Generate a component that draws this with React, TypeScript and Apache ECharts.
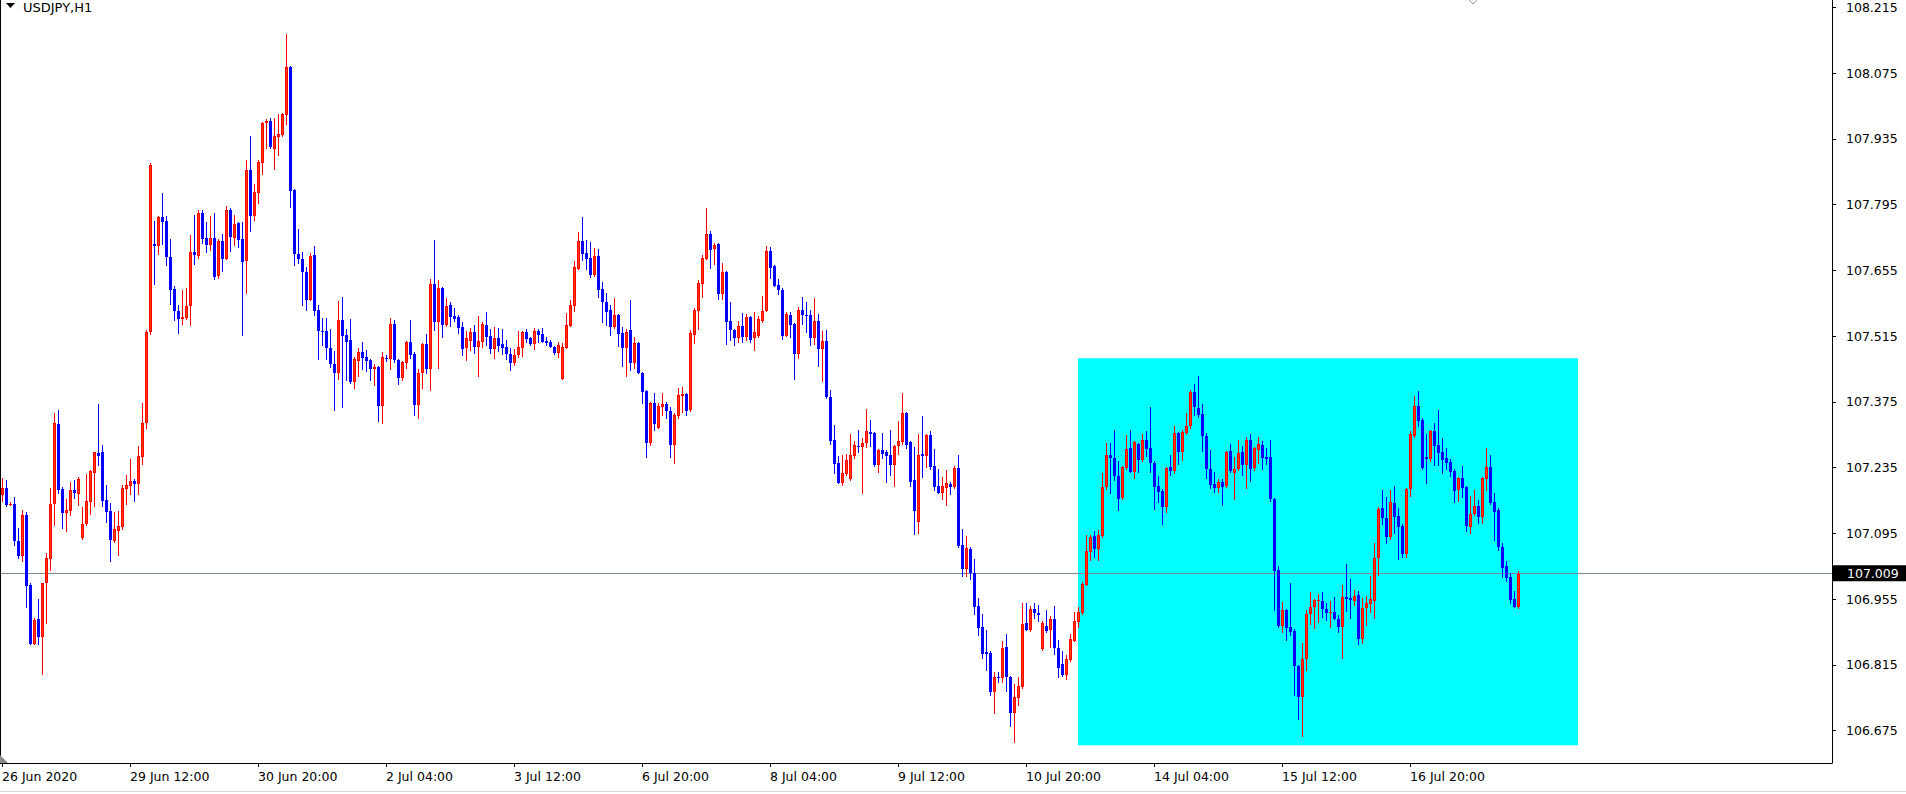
import React, { useEffect, useRef } from 'react';
import * as echarts from 'echarts';

const symbolTitle = 'USDJPY,H1';
const currentPrice = 107.009;
const yMin = 106.606;
const yMax = 108.2305;
const yTicks = [106.675, 106.815, 106.955, 107.095, 107.235, 107.375, 107.515, 107.655, 107.795, 107.935, 108.075, 108.215];
const timeLabels = ['26 Jun 2020', '29 Jun 12:00', '30 Jun 20:00', '2 Jul 04:00', '3 Jul 12:00', '6 Jul 20:00', '8 Jul 04:00', '9 Jul 12:00', '10 Jul 20:00', '14 Jul 04:00', '15 Jul 12:00', '16 Jul 20:00'];
const labelEvery = 32;
const totalSlots = 458;
const firstBarTime = Date.UTC(2020, 5, 26, 4);
const zoneBars = [269, 394];
const zonePrices = [107.468, 106.644];

const opens = [
107.177,107.192,107.155,107.157,107.079,107.047,107.134,106.985,106.859,106.913,106.874,106.989,107.040,107.157,107.328,107.189,107.138,107.143,107.187,107.179,
107.085,107.115,107.162,107.224,107.266,107.268,107.166,107.143,107.079,107.100,107.109,107.189,107.196,107.207,107.200,107.258,107.330,107.524,107.711,107.707,
107.769,107.760,107.683,107.615,107.568,107.551,107.553,107.579,107.694,107.685,107.777,107.724,107.709,107.724,107.643,107.717,107.679,107.783,107.724,107.756,
107.722,107.675,107.869,107.771,107.820,107.884,107.969,107.973,107.913,107.939,107.943,107.986,108.088,107.826,107.690,107.679,107.651,107.592,107.688,107.571,
107.526,107.526,107.490,107.456,107.436,107.549,107.517,107.507,107.417,107.462,107.481,107.470,107.464,107.445,107.449,107.366,107.468,107.466,107.541,107.464,
107.426,107.458,107.502,107.477,107.368,107.436,107.498,107.445,107.626,107.545,107.617,107.539,107.581,107.558,107.556,107.534,107.490,107.505,107.524,107.492,
107.502,107.539,107.515,107.487,107.511,107.498,107.492,107.477,107.458,107.475,107.490,107.524,107.511,107.498,107.526,107.519,107.505,107.502,107.492,107.479,
107.424,107.490,107.536,107.579,107.658,107.717,107.692,107.681,107.645,107.685,107.615,107.588,107.571,107.534,107.560,107.522,107.490,107.528,107.458,107.500,
107.436,107.398,107.287,107.373,107.319,107.364,107.370,107.356,107.283,107.345,107.388,107.392,107.358,107.517,107.568,107.626,107.679,107.732,107.700,107.711,
107.605,107.651,107.547,107.528,107.511,107.536,107.513,107.556,107.511,107.515,107.547,107.568,107.696,107.664,107.624,107.613,107.515,107.560,107.541,107.477,
107.571,107.560,107.560,107.511,107.547,107.487,107.505,107.385,107.294,107.245,107.202,107.221,107.211,107.260,107.281,107.279,107.287,107.311,107.309,107.241,
107.272,107.268,107.262,107.241,107.281,107.289,107.351,107.289,107.209,107.119,107.264,107.260,107.305,107.238,107.196,107.181,107.192,107.200,107.194,107.234,
107.070,107.019,107.062,107.011,106.940,106.896,106.842,106.840,106.757,106.789,106.787,106.853,106.789,106.712,106.745,106.768,106.904,106.889,106.934,106.925,
106.849,106.898,106.889,106.913,106.851,106.817,106.793,106.825,106.866,106.906,106.925,106.985,107.055,107.089,107.062,107.089,107.194,107.262,107.255,107.217,
107.170,107.234,107.277,107.226,107.285,107.251,107.294,107.277,107.245,107.196,107.185,107.151,107.236,107.228,107.309,107.268,107.309,107.324,107.396,107.362,
107.349,107.302,107.232,107.200,107.192,107.204,107.196,107.270,107.224,107.232,107.268,107.241,107.294,107.234,107.272,107.283,107.258,107.258,107.168,107.017,
106.898,106.932,106.896,106.887,106.813,106.747,106.827,106.923,106.938,106.951,106.951,106.934,106.925,106.927,106.913,106.896,106.960,106.957,106.951,106.964,
106.870,106.936,106.945,106.951,107.043,107.149,107.128,107.087,107.160,107.132,107.111,107.051,107.189,107.302,107.366,107.336,107.258,107.253,107.313,107.283,
107.268,107.255,107.247,107.228,107.187,107.213,107.194,107.109,107.136,107.153,107.130,107.211,107.236,107.162,107.145,107.066,107.026,107.002,106.955,106.938
];

const closes = [
107.192,107.155,107.157,107.079,107.047,107.134,106.983,106.859,106.910,106.874,106.989,107.043,107.157,107.330,107.187,107.138,107.145,107.187,107.181,107.211,
107.115,107.164,107.228,107.268,107.260,107.164,107.140,107.081,107.104,107.111,107.192,107.198,107.207,107.200,107.260,107.330,107.524,107.879,107.707,107.769,
107.758,107.683,107.613,107.568,107.551,107.556,107.579,107.694,107.688,107.777,107.722,107.709,107.724,107.641,107.717,107.679,107.783,107.726,107.754,107.720,
107.673,107.869,107.771,107.822,107.886,107.969,107.973,107.918,107.941,107.945,107.988,108.088,107.824,107.690,107.679,107.651,107.592,107.685,107.568,107.526,
107.524,107.490,107.456,107.436,107.549,107.515,107.502,107.417,107.466,107.481,107.468,107.462,107.445,107.449,107.366,107.470,107.466,107.541,107.464,107.426,
107.460,107.502,107.475,107.368,107.436,107.498,107.445,107.626,107.545,107.617,107.539,107.579,107.556,107.551,107.532,107.487,107.511,107.524,107.492,107.505,
107.541,107.513,107.487,107.511,107.494,107.490,107.477,107.458,107.475,107.492,107.524,107.509,107.498,107.526,107.517,107.502,107.500,107.492,107.479,107.496,
107.492,107.539,107.581,107.662,107.717,107.690,107.679,107.645,107.685,107.613,107.588,107.566,107.534,107.560,107.519,107.490,107.524,107.458,107.500,107.436,
107.396,107.287,107.373,107.328,107.366,107.370,107.356,107.283,107.347,107.390,107.392,107.356,107.522,107.571,107.628,107.681,107.732,107.698,107.709,107.605,
107.651,107.545,107.528,107.511,107.536,107.513,107.556,107.507,107.524,107.551,107.568,107.696,107.660,107.622,107.613,107.515,107.562,107.539,107.477,107.571,
107.560,107.558,107.511,107.547,107.487,107.505,107.385,107.292,107.243,107.202,107.224,107.251,107.262,107.283,107.279,107.287,107.313,107.307,107.241,107.272,
107.264,107.260,107.241,107.281,107.292,107.351,107.283,107.204,107.143,107.262,107.260,107.305,107.236,107.194,107.181,107.196,107.202,107.194,107.234,107.068,
107.019,107.064,107.011,106.938,106.893,106.838,106.838,106.757,106.789,106.787,106.851,106.789,106.712,106.747,106.770,106.902,106.889,106.934,106.925,106.921,
106.904,106.887,106.913,106.851,106.808,106.793,106.827,106.870,106.908,106.927,106.987,107.057,107.087,107.062,107.092,107.194,107.262,107.255,107.217,107.168,
107.236,107.275,107.226,107.289,107.251,107.294,107.275,107.245,107.194,107.183,107.151,107.234,107.228,107.309,107.268,107.311,107.324,107.396,107.364,107.347,
107.302,107.232,107.198,107.192,107.204,107.194,107.268,107.228,107.232,107.266,107.241,107.294,107.232,107.277,107.285,107.255,107.253,107.168,107.015,106.898,
106.932,106.893,106.885,106.813,106.747,106.827,106.923,106.938,106.953,106.953,106.934,106.925,106.927,106.913,106.896,106.960,106.955,106.953,106.962,106.870,
106.936,106.947,106.955,107.043,107.147,107.128,107.087,107.162,107.130,107.109,107.051,107.189,107.307,107.366,107.334,107.234,107.253,107.313,107.281,107.266,
107.251,107.245,107.226,107.185,107.213,107.192,107.111,107.136,107.153,107.130,107.213,107.236,107.160,107.140,107.066,107.021,107.000,106.953,106.938,107.009
];

const lows = [
107.162,107.151,107.153,107.068,107.040,107.034,106.936,106.857,106.857,106.857,106.793,106.902,107.015,107.111,107.179,107.104,107.098,107.132,107.168,107.153,
107.081,107.111,107.134,107.151,107.238,107.151,107.117,107.034,107.074,107.047,107.102,107.155,107.177,107.162,107.177,107.241,107.317,107.517,107.624,107.688,
107.709,107.664,107.581,107.547,107.519,107.539,107.549,107.536,107.666,107.679,107.711,107.692,107.696,107.634,107.637,107.651,107.677,107.694,107.707,107.703,
107.515,107.605,107.737,107.760,107.796,107.858,107.913,107.913,107.869,107.898,107.939,107.964,107.788,107.664,107.668,107.579,107.568,107.590,107.558,107.464,
107.494,107.464,107.447,107.356,107.422,107.362,107.419,107.413,107.402,107.428,107.443,107.439,107.419,107.409,107.332,107.328,107.460,107.443,107.458,107.411,
107.419,107.445,107.466,107.345,107.338,107.402,107.434,107.398,107.526,107.445,107.511,107.534,107.534,107.545,107.519,107.473,107.462,107.483,107.477,107.428,
107.490,107.494,107.477,107.466,107.481,107.475,107.464,107.441,107.451,107.468,107.470,107.500,107.494,107.485,107.500,107.500,107.494,107.490,107.475,107.468,
107.422,107.487,107.534,107.566,107.656,107.675,107.656,107.639,107.641,107.596,107.543,107.536,107.515,107.530,107.492,107.449,107.428,107.441,107.445,107.434,
107.370,107.255,107.281,107.313,107.317,107.345,107.338,107.255,107.243,107.338,107.351,107.345,107.353,107.498,107.528,107.596,107.677,107.658,107.666,107.592,
107.592,107.496,107.505,107.494,107.500,107.500,107.505,107.500,107.483,107.511,107.543,107.566,107.637,107.620,107.602,107.507,107.513,107.511,107.422,107.466,
107.539,107.522,107.494,107.496,107.449,107.417,107.381,107.283,107.221,107.200,107.196,107.217,107.207,107.253,107.266,107.179,107.277,107.279,107.236,107.224,
107.253,107.202,107.217,107.194,107.262,107.283,107.275,107.194,107.092,107.094,107.213,107.234,107.230,107.185,107.179,107.166,107.153,107.177,107.189,107.064,
107.002,107.002,106.996,106.921,106.876,106.827,106.802,106.749,106.710,106.776,106.776,106.757,106.683,106.649,106.727,106.763,106.887,106.885,106.913,106.906,
106.844,106.883,106.851,106.836,106.787,106.789,106.783,106.821,106.864,106.893,106.921,106.983,107.036,107.043,107.036,107.085,107.187,107.179,107.207,107.143,
107.166,107.230,107.224,107.211,107.224,107.247,107.258,107.224,107.145,107.160,107.113,107.138,107.217,107.221,107.241,107.249,107.305,107.317,107.345,107.341,
107.268,107.211,107.189,107.181,107.181,107.153,107.192,107.224,107.166,107.228,107.217,107.189,107.204,107.228,107.243,107.230,107.241,107.162,106.930,106.893,
106.883,106.866,106.876,106.749,106.698,106.661,106.802,106.900,106.891,106.904,106.915,106.908,106.893,106.910,106.883,106.827,106.927,106.913,106.940,106.857,
106.859,106.898,106.925,106.913,107.004,107.113,107.072,107.081,107.094,107.038,107.043,107.043,107.172,107.298,107.321,107.230,107.200,107.247,107.238,107.238,
107.221,107.230,107.215,107.160,107.162,107.170,107.098,107.094,107.132,107.115,107.115,107.185,107.155,107.079,107.057,107.000,106.991,106.945,106.936,106.934
];

const highs = [
107.213,107.209,107.162,107.172,107.106,107.145,107.140,106.989,106.915,106.955,106.989,107.053,107.192,107.351,107.358,107.194,107.168,107.204,107.209,107.215,
107.151,107.221,107.230,107.268,107.370,107.283,107.198,107.160,107.140,107.143,107.198,107.219,107.253,107.211,107.281,107.373,107.528,107.884,107.760,107.771,
107.820,107.771,107.722,107.622,107.581,107.613,107.617,107.730,107.773,107.783,107.783,107.758,107.771,107.777,107.722,107.732,107.792,107.788,107.773,107.758,
107.758,107.890,107.941,107.839,107.890,107.971,107.977,107.979,107.979,107.988,107.990,108.158,108.090,107.828,107.743,107.694,107.662,107.692,107.707,107.581,
107.553,107.553,107.530,107.483,107.590,107.598,107.530,107.551,107.470,107.490,107.502,107.485,107.466,107.456,107.451,107.481,107.475,107.553,107.549,107.466,
107.462,107.505,107.549,107.481,107.445,107.500,107.519,107.637,107.720,107.634,107.620,107.596,107.588,107.575,107.560,107.545,107.526,107.532,107.539,107.558,
107.545,107.566,107.530,107.534,107.532,107.530,107.507,107.490,107.487,107.526,107.526,107.530,107.513,107.532,107.530,107.532,107.513,107.507,107.494,107.502,
107.500,107.564,107.592,107.675,107.737,107.769,107.720,107.715,107.703,107.700,107.630,107.607,107.581,107.596,107.562,107.534,107.530,107.592,107.513,107.502,
107.439,107.400,107.375,107.394,107.373,107.394,107.375,107.364,107.351,107.405,107.407,107.394,107.528,107.575,107.634,107.688,107.788,107.739,107.713,107.713,
107.671,107.654,107.588,107.530,107.547,107.564,107.562,107.558,107.566,107.558,107.600,107.707,107.705,107.666,107.637,107.617,107.566,107.566,107.543,107.577,
107.598,107.588,107.571,107.596,107.562,107.526,107.528,107.400,107.326,107.260,107.262,107.264,107.307,107.292,107.315,107.298,107.360,107.336,107.311,107.275,
107.309,107.272,107.315,107.283,107.334,107.394,107.353,107.292,107.279,107.307,107.345,107.307,107.313,107.275,107.232,107.215,107.230,107.204,107.238,107.262,
107.104,107.089,107.066,107.040,106.957,106.923,106.889,106.844,106.800,106.800,106.866,106.881,106.791,106.774,106.789,106.947,106.947,106.940,106.947,106.942,
106.908,106.932,106.919,106.940,106.868,106.844,106.836,106.881,106.927,106.938,106.991,107.092,107.092,107.100,107.102,107.224,107.287,107.287,107.315,107.249,
107.238,107.305,107.315,107.292,107.287,107.307,107.313,107.364,107.249,107.217,107.189,107.236,107.262,107.324,107.311,107.315,107.351,107.400,107.413,107.430,
107.370,107.309,107.272,107.226,107.211,107.211,107.270,107.285,107.258,107.294,107.281,107.300,107.307,107.279,107.300,107.292,107.277,107.294,107.170,107.026,
106.949,106.934,106.989,106.891,106.815,106.861,106.932,106.970,106.955,106.966,106.970,106.947,106.951,106.960,106.921,106.985,107.030,106.998,106.974,106.972,
106.957,106.962,107.004,107.074,107.151,107.187,107.172,107.187,107.196,107.149,107.115,107.192,107.313,107.388,107.398,107.341,107.307,107.315,107.330,107.358,
107.298,107.277,107.253,107.232,107.215,107.238,107.196,107.175,107.187,107.166,107.215,107.277,107.262,107.181,107.149,107.074,107.036,107.011,106.972,107.015
];

const FONT = 'DejaVu Sans';
const BULL_EDGE = '#ff0000';
const BULL_FILL = '#ff3a00';
const BEAR = '#0000ff';

function buildTimes(n: number): string[] {
  const out: string[] = [];
  let t = firstBarTime;
  while (out.length < n) {
    const d = new Date(t);
    const wd = d.getUTCDay();
    if (wd !== 0 && wd !== 6) {
      out.push(d.toISOString().slice(0, 16).replace('T', ' '));
    }
    t += 3600000;
  }
  return out;
}

function renderCandle(_params: any, api: any) {
  const i = api.value(0);
  const o = api.value(1);
  const c = api.value(2);
  const l = api.value(3);
  const h = api.value(4);
  const pO = api.coord([i, o]);
  const pC = api.coord([i, c]);
  const pL = api.coord([i, l]);
  const pH = api.coord([i, h]);
  const px = Math.floor(pO[0] + 0.01);
  const up = c > o;
  const edge = up ? BULL_EDGE : BEAR;
  const yTop = Math.round(Math.min(pO[1], pC[1]));
  const yBot = Math.round(Math.max(pO[1], pC[1]));
  const wTop = Math.round(Math.min(pH[1], pL[1]));
  const wBot = Math.round(Math.max(pH[1], pL[1]));
  const bh = Math.max(1, yBot - yTop);
  const children: any[] = [
    { type: 'rect', shape: { x: px, y: wTop, width: 1, height: Math.max(1, wBot - wTop) }, style: { fill: edge } },
    { type: 'rect', shape: { x: px - 1, y: yTop, width: 3, height: bh }, style: { fill: edge } },
  ];
  if (up && bh >= 3) {
    children.push({ type: 'rect', shape: { x: px, y: yTop + 1, width: 1, height: bh - 2 }, style: { fill: BULL_FILL } });
  }
  return { type: 'group', children };
}

export default function App() {
  const ref = useRef<HTMLDivElement>(null);
  useEffect(() => {
    document.body.style.margin = '0';
    if (!ref.current) return;
    const chart = echarts.init(ref.current, null, { renderer: 'svg' });
    const categories = buildTimes(totalSlots);
    const rows = opens.map((o, i) => [i, o, closes[i], lows[i], highs[i]]);
    const showLabel = (i: number) => i % labelEvery === 0 && i < opens.length;

    const option: any = {
      animation: false,
      backgroundColor: '#ffffff',
      textStyle: { fontFamily: FONT },
      grid: { left: 0, top: 0, width: 1832, height: 763, containLabel: false, outerBoundsMode: 'none' },
      xAxis: {
        type: 'category',
        data: categories,
        boundaryGap: true,
        axisLine: { show: true, lineStyle: { color: '#000000', width: 1 } },
        axisTick: { show: true, interval: (i: number) => showLabel(i), alignWithLabel: true, length: 4, lineStyle: { color: '#000000' } },
        axisLabel: {
          show: true,
          interval: (i: number) => showLabel(i),
          formatter: (_v: string, i: number) => timeLabels[Math.round(i / labelEvery)] || '',
          align: 'left',
          margin: 7,
          color: '#000000',
          fontSize: 12.5,
          fontFamily: FONT,
        },
        splitLine: { show: false },
      },
      yAxis: {
        type: 'value',
        position: 'right',
        min: yMin,
        max: yMax,
        scale: true,
        axisLine: { show: true, lineStyle: { color: '#000000', width: 1 } },
        axisTick: { show: true, length: 4, inside: false, customValues: yTicks, lineStyle: { color: '#000000' } },
        axisLabel: {
          show: true,
          customValues: yTicks,
          formatter: (v: number) => v.toFixed(3),
          margin: 14,
          color: '#000000',
          fontSize: 12.5,
          fontFamily: FONT,
        },
        splitLine: { show: false },
      },
      series: [
        {
          type: 'line',
          data: [],
          z: 1,
          silent: true,
          markArea: {
            silent: true,
            z: 1,
            itemStyle: { color: '#00ffff', opacity: 1, borderWidth: 0 },
            label: { show: false },
            emphasis: { disabled: true },
            data: [[{ xAxis: zoneBars[0], yAxis: zonePrices[0] }, { xAxis: zoneBars[1], yAxis: zonePrices[1] }]],
          },
          markLine: {
            silent: true,
            z: 2,
            symbol: ['none', 'none'],
            lineStyle: { color: '#778899', width: 1, type: 'solid' },
            emphasis: { disabled: true },
            label: {
              show: true,
              position: 'end',
              distance: 1,
              formatter: () => currentPrice.toFixed(3),
              color: '#ffffff',
              backgroundColor: '#000000',
              fontSize: 12.5,
              fontFamily: FONT,
              padding: [2, 12, 1, 14],
            },
            data: [{ yAxis: currentPrice }],
          },
        },
        {
          type: 'custom',
          z: 3,
          silent: true,
          clip: false,
          renderItem: renderCandle,
          encode: { x: 0, y: [1, 2, 3, 4] },
          data: rows,
        },
      ],
      graphic: [
        { type: 'rect', shape: { x: 0, y: 0, width: 1, height: 763 }, style: { fill: '#000000' }, z: 100 },
        { type: 'polygon', shape: { points: [[6, 3], [15, 3], [10.5, 8]] }, style: { fill: '#000000' }, z: 100 },
        { type: 'text', x: 23, y: 7, style: { text: symbolTitle, font: `13px "${FONT}"`, fill: '#000000', verticalAlign: 'middle', align: 'left' }, z: 100 },
        { type: 'polygon', shape: { points: [[0, 755], [0, 763], [8, 763]] }, style: { fill: '#8a8a8a' }, z: 100 },
        { type: 'polyline', shape: { points: [[1469, 0], [1473, 4], [1477, 0]] }, style: { stroke: '#9a9a9a', lineWidth: 1, fill: 'none' }, z: 100 },
        { type: 'rect', shape: { x: 0, y: 791, width: 1906, height: 1 }, style: { fill: '#d8d8d8' }, z: 100 },
      ],
    };
    chart.setOption(option);
    return () => chart.dispose();
  }, []);
  return <div ref={ref} style={{ width: 1906, height: 794, background: '#ffffff' }} />;
}
